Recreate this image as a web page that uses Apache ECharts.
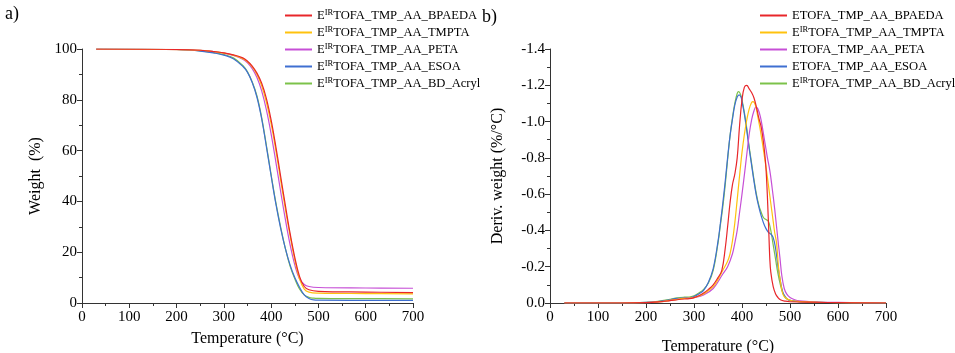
<!DOCTYPE html>
<html><head><meta charset="utf-8">
<script src="https://cdn.jsdelivr.net/npm/echarts@6/dist/echarts.min.js"></script>
<style>html,body{margin:0;padding:0;background:#fff}#c{width:955px;height:353px}</style>
</head><body><div id="c"></div>
<script>
// ---- data ----
const xTicks = [0,100,200,300,400,500,600,700];
const tgaLabels = ['EIRTOFA_TMP_AA_BPAEDA','EIRTOFA_TMP_AA_TMPTA','EIRTOFA_TMP_AA_PETA','EIRTOFA_TMP_AA_ESOA','EIRTOFA_TMP_AA_BD_Acryl'];
const dtgLabels = ['ETOFA_TMP_AA_BPAEDA','EIRTOFA_TMP_AA_TMPTA','ETOFA_TMP_AA_PETA','ETOFA_TMP_AA_ESOA','EIRTOFA_TMP_AA_BD_Acryl'];
const colors = ['#e8262a','#ffc20e','#c64fd6','#3f6fd1','#7cc24a'];

// TGA (weight %)
const tgaRedT   = [30,200,250,280,300,320,340,350,360,370,380,390,400,410,420,430,440,450,460,470,480,500,600,700];
const tgaRedV   = [100,99.8,99.5,99.0,98.5,97.7,96.5,95.2,93.3,90.5,86.5,80.5,72,61.5,50,38.5,27.5,18,10.5,6.5,5.2,4.6,4.3,4.1];
const tgaYelT   = [30,250,300,320,340,350,360,370,380,390,400,410,420,430,440,450,460,470,480,500,600,700];
const tgaYelV   = [100,99.5,98.4,97.6,96.2,95,93,90,85.5,79,70.5,60,48.5,37,26.5,17,9.5,5.5,4.3,3.9,3.7,3.6];
const tgaPurT   = [30,250,300,320,340,350,360,370,380,390,400,410,420,430,440,450,460,470,480,500,600,700];
const tgaPurV   = [100,99.5,98.4,97.5,96,94.6,92.3,88.8,83.5,76,66.5,55.5,44,33,23,15,9.5,7.3,6.5,6.1,5.9,5.8];
const tgaBluT   = [30,200,250,280,300,320,340,350,360,370,380,390,400,410,420,430,440,450,460,470,480,490,500,700];
const tgaBluV   = [100,99.8,99.2,98.4,97.6,96.2,93.2,90.8,86.8,81,72.5,61.5,50,39,29.5,21.5,15,10,6.2,3.2,1.8,1.2,1.1,1.0];
const tgaGrnT   = [30,200,250,280,300,320,340,350,360,370,380,390,400,410,420,430,440,450,460,470,480,490,500,550,600,700];
const tgaGrnV   = [100,99.8,99.3,98.6,97.8,96.5,93.5,91,87,81.5,73,62,50.5,39.5,30,21.5,14.5,9.5,5.5,3.2,2.2,1.9,1.8,1.7,1.7,1.6];

// DTG (%/°C)
const dtgRedT = [30,150,200,225,250,265,280,290,300,310,320,330,340,350,358,365,370,375,380,385,390,395,400,405,410,415,420,425,430,435,440,445,450,455,458,460,465,470,475,480,490,500,550,600,700];
const dtgRedV = [0,0,-0.002,-0.006,-0.013,-0.018,-0.022,-0.024,-0.03,-0.04,-0.055,-0.075,-0.1,-0.14,-0.18,-0.3,-0.42,-0.55,-0.65,-0.71,-0.8,-0.98,-1.12,-1.19,-1.2,-1.18,-1.16,-1.13,-1.08,-1.02,-0.97,-0.88,-0.74,-0.45,-0.24,-0.17,-0.09,-0.05,-0.03,-0.018,-0.01,-0.007,-0.004,-0.002,0];
const dtgYelT = [30,150,200,225,250,265,280,290,300,320,340,350,360,370,375,380,385,390,396,400,405,410,415,420,423,428,432,437,442,446,451,456,460,465,468,472,476,480,485,490,500,520,560,600,700];
const dtgYelV = [0,0,-0.002,-0.006,-0.014,-0.02,-0.025,-0.027,-0.03,-0.05,-0.09,-0.13,-0.18,-0.23,-0.27,-0.34,-0.44,-0.57,-0.73,-0.83,-0.93,-1.01,-1.07,-1.105,-1.11,-1.09,-1.04,-0.97,-0.89,-0.82,-0.73,-0.63,-0.55,-0.45,-0.39,-0.33,-0.2,-0.12,-0.05,-0.03,-0.015,-0.008,-0.004,-0.002,0];
const dtgPurT = [30,150,200,225,250,265,280,290,300,320,340,360,370,380,385,390,395,400,406,410,415,420,425,429,433,438,443,448,453,458,463,468,472,476,479,483,488,493,500,510,520,540,560,600,650,700];
const dtgPurV = [0,0,-0.002,-0.006,-0.014,-0.02,-0.025,-0.027,-0.03,-0.045,-0.08,-0.16,-0.2,-0.27,-0.33,-0.4,-0.5,-0.6,-0.73,-0.82,-0.93,-1.01,-1.06,-1.08,-1.07,-1.03,-0.96,-0.88,-0.8,-0.73,-0.63,-0.52,-0.42,-0.32,-0.25,-0.15,-0.08,-0.05,-0.03,-0.018,-0.012,-0.008,-0.005,-0.003,-0.001,0];
const dtgBluT = [30,150,200,225,250,265,280,290,300,310,320,330,340,350,355,360,365,370,375,380,385,390,394,398,400,405,410,415,420,425,430,435,440,445,450,455,460,465,470,475,480,485,490,495,500,520,560,600,700];
const dtgBluV = [0,0,-0.003,-0.008,-0.018,-0.025,-0.028,-0.029,-0.035,-0.05,-0.07,-0.115,-0.19,-0.34,-0.44,-0.55,-0.67,-0.8,-0.92,-1.01,-1.09,-1.135,-1.147,-1.135,-1.11,-1.04,-0.95,-0.85,-0.76,-0.67,-0.59,-0.53,-0.48,-0.44,-0.41,-0.39,-0.38,-0.36,-0.3,-0.2,-0.12,-0.06,-0.035,-0.02,-0.014,-0.008,-0.004,-0.002,0];
const dtgGrnT = [30,150,200,225,250,265,280,290,300,310,320,330,340,350,355,360,365,370,375,380,385,390,393,397,400,405,410,415,420,425,430,435,440,445,450,455,460,465,470,475,480,485,490,495,500,520,560,600,700];
const dtgGrnV = [0,0,-0.003,-0.009,-0.02,-0.028,-0.032,-0.033,-0.04,-0.055,-0.075,-0.11,-0.18,-0.33,-0.43,-0.53,-0.65,-0.79,-0.92,-1.02,-1.1,-1.155,-1.165,-1.15,-1.12,-1.05,-0.96,-0.86,-0.77,-0.68,-0.6,-0.54,-0.5,-0.47,-0.46,-0.45,-0.4,-0.32,-0.24,-0.16,-0.1,-0.055,-0.03,-0.02,-0.014,-0.008,-0.004,-0.002,0];

// ---- build ----
const tgaSets = [[tgaRedT,tgaRedV],[tgaYelT,tgaYelV],[tgaPurT,tgaPurV],[tgaBluT,tgaBluV],[tgaGrnT,tgaGrnV]];
const dtgSets = [[dtgRedT,dtgRedV],[dtgYelT,dtgYelV],[dtgPurT,dtgPurV],[dtgBluT,dtgBluV],[dtgGrnT,dtgGrnV]];
const zip = (t,v) => t.map((x,i)=>[x,v[i]]);
const FONT = '"Liberation Serif","Times New Roman",serif';

function richName(s){
  if (s.startsWith('EIR')) return '{n|E}{s|IR}{n|' + s.slice(3) + '}';
  return '{n|' + s + '}';
}
const LEGFS = 12.6;
const richStyle = { n:{fontFamily:FONT,fontSize:LEGFS,color:'#000'}, s:{fontFamily:FONT,fontSize:8.5,color:'#000',padding:[0,0,6,0]} };

const series = [];
tgaSets.forEach((d,i)=>series.push({name:'L'+i,type:'line',xAxisIndex:0,yAxisIndex:0,data:zip(d[0],d[1]),smooth:0.4,showSymbol:false,lineStyle:{width:1.2,color:colors[i]},itemStyle:{color:colors[i]},z:10-i}));
dtgSets.forEach((d,i)=>series.push({name:'R'+i,type:'line',xAxisIndex:1,yAxisIndex:1,data:zip(d[0],d[1]),smooth:0.4,showSymbol:false,lineStyle:{width:1.2,color:colors[i]},itemStyle:{color:colors[i]},z:10-i}));

const nameMap = {};
tgaLabels.forEach((l,i)=>nameMap['L'+i]=l);
dtgLabels.forEach((l,i)=>nameMap['R'+i]=l);

const TICKFS = 15, TITLEFS = 16;
function xAxis(grid, gap){
  return {type:'value',gridIndex:grid,min:0,max:700,interval:100,
    name:'Temperature (°C)',nameLocation:'middle',nameGap:gap,
    nameTextStyle:{fontFamily:FONT,fontSize:TITLEFS,color:'#000'},
    axisLine:{show:true,onZero:false,lineStyle:{color:'#333',width:1}},
    axisTick:{show:true,inside:false,length:5,lineStyle:{color:'#333'}},
    minorTick:{show:true,splitNumber:2,length:3,lineStyle:{color:'#333'}},
    axisLabel:{fontFamily:FONT,fontSize:TICKFS,color:'#000',margin:7},
    splitLine:{show:false}};
}

const option = {
  animation:false,
  backgroundColor:'#fff',
  textStyle:{fontFamily:FONT},
  grid:[{left:82,top:49,width:331,height:254,containLabel:false,outerBoundsMode:'none'},
        {left:550,top:49,width:336,height:254,containLabel:false,outerBoundsMode:'none'}],
  xAxis:[xAxis(0,28),xAxis(1,36)],
  yAxis:[
    {type:'value',gridIndex:0,min:0,max:100,interval:20,
      name:'Weight  (%)',nameLocation:'middle',nameGap:38,nameRotate:90,
      nameTextStyle:{fontFamily:FONT,fontSize:TITLEFS,color:'#000'},
      axisLine:{show:true,lineStyle:{color:'#333'}},
      axisTick:{show:true,length:5,lineStyle:{color:'#333'}},
      minorTick:{show:true,splitNumber:2,length:3,lineStyle:{color:'#333'}},
      axisLabel:{fontFamily:FONT,fontSize:TICKFS,color:'#000',margin:5},
      splitLine:{show:false}},
    {type:'value',gridIndex:1,min:-1.4,max:0,interval:0.2,inverse:true,
      name:'Deriv. weight (%/°C)',nameLocation:'middle',nameGap:44,nameRotate:90,
      nameTextStyle:{fontFamily:FONT,fontSize:TITLEFS,color:'#000'},
      axisLine:{show:true,lineStyle:{color:'#333'}},
      axisTick:{show:true,length:5,lineStyle:{color:'#333'}},
      minorTick:{show:true,splitNumber:2,length:3,lineStyle:{color:'#333'}},
      axisLabel:{fontFamily:FONT,fontSize:TICKFS,color:'#000',margin:5,formatter:v=>(Math.abs(v)<1e-9?'0.0':v.toFixed(1))},
      splitLine:{show:false}}
  ],
  legend:[
    {data:['L0','L1','L2','L3','L4'],orient:'vertical',left:285,top:8,padding:0,itemWidth:27,itemHeight:2,icon:'rect',itemGap:2,
      formatter:n=>richName(nameMap[n]),textStyle:{rich:richStyle,fontFamily:FONT,fontSize:LEGFS,lineHeight:15}},
    {data:['R0','R1','R2','R3','R4'],orient:'vertical',left:760,top:8,padding:0,itemWidth:27,itemHeight:2,icon:'rect',itemGap:2,
      formatter:n=>richName(nameMap[n]),textStyle:{rich:richStyle,fontFamily:FONT,fontSize:LEGFS,lineHeight:15}}
  ],
  graphic:[
    {type:'text',left:5,top:5,style:{text:'a)',fontFamily:FONT,fontSize:18,fill:'#000'}},
    {type:'text',left:482,top:8,style:{text:'b)',fontFamily:FONT,fontSize:18,fill:'#000'}}
  ],
  series:series
};
const chart = echarts.init(document.getElementById('c'),null,{renderer:'canvas'});
chart.setOption(option);
</script>
</body></html>
